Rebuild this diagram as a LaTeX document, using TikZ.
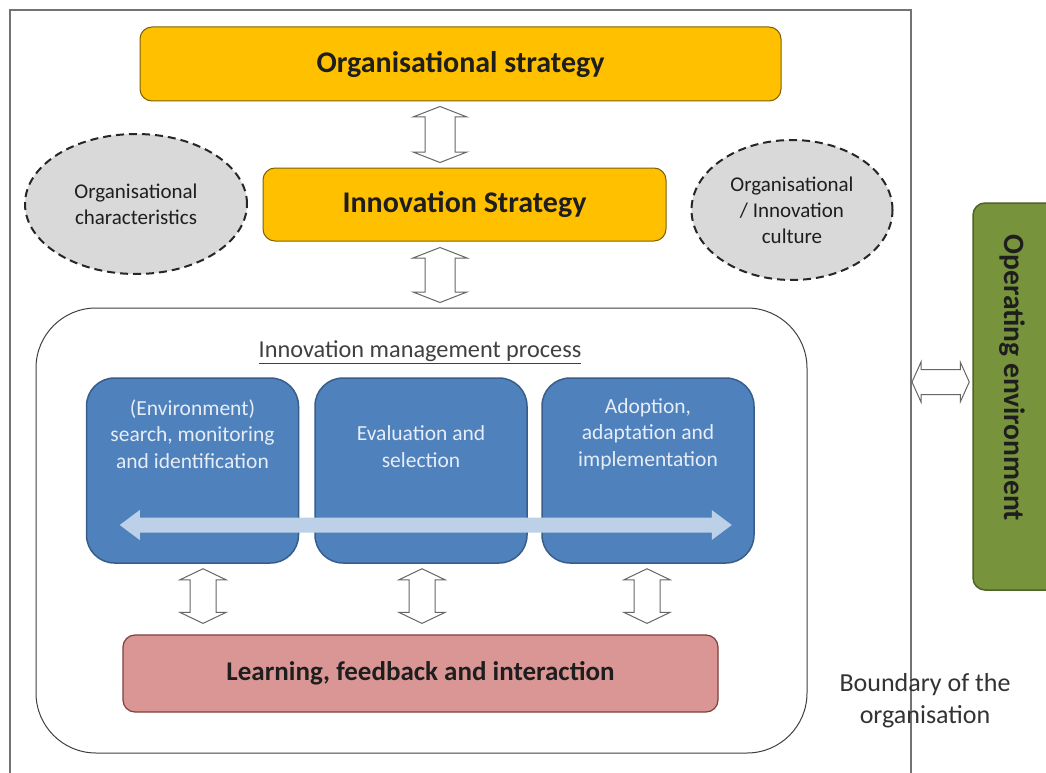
\documentclass[tikz,border=0pt]{standalone}
\usepackage{fontspec}
\setmainfont{Carlito}
\usetikzlibrary{shapes.geometric,calc}
\definecolor{ygold}{HTML}{FFC000}
\definecolor{yedge}{HTML}{7F6000}
\definecolor{bfill}{HTML}{4F81BD}
\definecolor{bedge}{HTML}{385D8A}
\definecolor{btxt}{HTML}{E6EDF6}
\definecolor{pfill}{HTML}{D99694}
\definecolor{pedge}{HTML}{7F3F3D}
\definecolor{gfill}{HTML}{77933C}
\definecolor{gedge}{HTML}{4F6228}
\definecolor{efill}{HTML}{D9D9D9}
\definecolor{larr}{HTML}{BCD0E8}
\definecolor{txtd}{HTML}{1E1E1E}
\newcommand{\vdarr}[6]{%
 \path[#1] let \p1=(#2), \p2=(#3) in
 (\x1,\y1) -- (\x1+#5,\y1-#6) -- (\x1+#4,\y1-#6) -- (\x1+#4,\y2+#6) -- (\x1+#5,\y2+#6) -- (\x1,\y2)
 -- (\x1-#5,\y2+#6) -- (\x1-#4,\y2+#6) -- (\x1-#4,\y1-#6) -- (\x1-#5,\y1-#6) -- cycle;}
\newcommand{\hdarr}[6]{%
 \path[#1] let \p1=(#2), \p2=(#3) in
 (\x1,\y1) -- (\x1+#6,\y1+#5) -- (\x1+#6,\y1+#4) -- (\x2-#6,\y1+#4) -- (\x2-#6,\y1+#5) -- (\x2,\y1)
 -- (\x2-#6,\y1-#5) -- (\x2-#6,\y1-#4) -- (\x1+#6,\y1-#4) -- (\x1+#6,\y1-#5) -- cycle;}
\begin{document}
\begin{tikzpicture}[x=1pt,y=-1pt,
  ybox/.style={draw=yedge, fill=ygold, line width=1pt, rounded corners=12pt, inner sep=0pt,
    text=txtd, font=\fontsize{30}{36}\selectfont\bfseries},
  ellbox/.style={ellipse, draw=black!85, fill=efill, dash pattern=on 8pt off 5pt, line width=2pt,
    inner sep=0pt, align=center, text=txtd, font=\fontsize{21}{26}\selectfont},
  bluebox/.style={draw=bedge, fill=bfill, line width=1.5pt, rounded corners=28pt, inner sep=0pt,
    minimum width=212pt, minimum height=185pt},
  btext/.style={align=center, text=btxt, font=\fontsize{21.5}{26.5}\selectfont},
  hollow/.style={draw=black!60, fill=white, line width=1pt, line join=miter},
  boundary/.style={draw=black!55, line width=1.2pt}
]
\useasboundingbox (0,0) rectangle (1046,773);
\clip (0,0) rectangle (1046,773);
\fill[white] (0,0) rectangle (1046,773);
% boundary of the organisation
\draw[boundary] (10,790) -- (10,10) -- (911,10) -- (911,790);
\coordinate (bd) at (911,382);
\node[align=center, text=black!80, font=\fontsize{26}{32}\selectfont] (bdl) at (925,701) {Boundary of the\\organisation};
% strategies
\node[ybox, minimum width=641pt, minimum height=74pt] (os) at (460.5,64) {Organisational strategy};
\node[ybox, minimum width=403pt, minimum height=73pt] (is) at (464.5,204.5) {Innovation Strategy};
% ellipses
\node[ellbox, minimum width=222pt, minimum height=140pt] (el) at (136,204) {Organisational\\characteristics};
\node[ellbox, minimum width=201pt, minimum height=140pt] (er) at (792,210) {Organisational\\/ Innovation\\culture};
% operating environment
\node[draw=gedge, fill=gfill, line width=1.5pt, rounded corners=12pt, minimum width=90pt, minimum height=387pt, inner sep=0pt] (oe) at (1018,396.5) {};
\node[rotate=-90, text=txtd, font=\fontsize{29.5}{34}\selectfont\bfseries] (oet) at (1012,378) {Operating environment};
% innovation management process
\node[draw=black!75, line width=1pt, rounded corners=60pt, minimum width=771pt, minimum height=445pt, inner sep=0pt] (imp) at (421.5,530.5) {};
\node[text=black!75, font=\fontsize{24.3}{28}\selectfont] (impt) at (420,352) {\underline{Innovation management process}};
\node[bluebox, label={[btext, yshift=36.5pt]center:{(Environment)\\search, monitoring\\and identification}}] (b1) at (192.5,470.5) {};
\node[bluebox, label={[btext, yshift=24pt]center:{Evaluation and\\selection}}] (b2) at (421,470.5) {};
\node[bluebox, label={[btext, yshift=36.5pt]center:{Adoption,\\adaptation and\\implementation}}] (b3) at (648,470.5) {};
\node[draw=pedge, fill=pfill, line width=1.2pt, rounded corners=12pt, minimum width=595pt, minimum height=77pt, inner sep=0pt,
  text=txtd, font=\fontsize{27}{32}\selectfont\bfseries] (lf) at (420.5,673.5) {Learning, feedback and interaction};
% light process arrow
\hdarr{fill=larr}{$(b1.west)+(34,54.5)$}{$(b3.east)+(-23,54.5)$}{7.5pt}{15pt}{20pt}
% hollow double arrows
\vdarr{hollow}{$(os.south)+(-20.5,5)$}{$(is.north)+(-24.5,-5)$}{15pt}{27pt}{10.5pt}
\vdarr{hollow}{$(is.south)+(-24.5,6)$}{$(imp.north)+(18.5,-5)$}{15pt}{27pt}{10.5pt}
\vdarr{hollow}{$(b1.south)+(10.5,5)$}{$(b1.south |- lf.north)+(10.5,-11)$}{13pt}{23pt}{11pt}
\vdarr{hollow}{$(b2.south)+(1,5)$}{$(b2.south |- lf.north)+(1,-11)$}{13pt}{23pt}{11pt}
\vdarr{hollow}{$(b3.south)+(-1,5)$}{$(b3.south |- lf.north)+(-1,-11)$}{13pt}{23pt}{11pt}
\hdarr{hollow}{$(bd)+(1,0)$}{$(oe.west |- bd)+(-3,0)$}{12.5pt}{20pt}{9pt}
\end{tikzpicture}
\end{document}
